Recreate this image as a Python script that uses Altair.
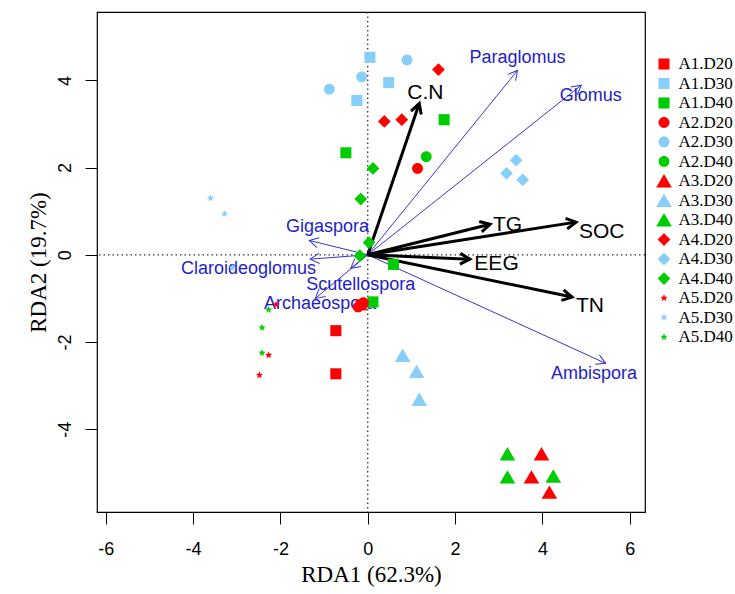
import math
import altair as alt
import pandas as pd

# ---------------- data ----------------
groups = ["A1.D20", "A1.D30", "A1.D40", "A2.D20", "A2.D30", "A2.D40",
          "A3.D20", "A3.D30", "A3.D40", "A4.D20", "A4.D30", "A4.D40",
          "A5.D20", "A5.D30", "A5.D40"]

pt_group = (["A1.D20"] * 3 + ["A1.D30"] * 3 + ["A1.D40"] * 4 +
            ["A2.D20"] * 3 + ["A2.D30"] * 3 + ["A2.D40"] * 1 +
            ["A3.D20"] * 3 + ["A3.D30"] * 3 + ["A3.D40"] * 3 +
            ["A4.D20"] * 3 + ["A4.D30"] * 3 + ["A4.D40"] * 4 +
            ["A5.D20"] * 3 + ["A5.D30"] * 3 + ["A5.D40"] * 3)
pt_x = [-0.73, -0.73, -0.15,
        0.05, 0.48, -0.25,
        -0.50, 1.75, 0.59, 0.12,
        1.14, -0.10, -0.22,
        -0.88, -0.14, 0.90,
        1.34,
        3.98, 3.75, 4.16,
        0.80, 1.12, 1.18,
        3.20, 3.20, 4.25,
        1.62, 0.38, 0.78,
        3.40, 3.18, 3.55,
        0.12, -0.16, 0.03, -0.18,
        -2.10, -2.27, -2.48,
        -3.60, -3.28, -3.10,
        -2.27, -2.42, -2.42]
pt_y = [-1.74, -2.73, -1.15,
        4.53, 3.95, 3.54,
        2.34, 3.10, -0.22, -1.08,
        1.98, -1.10, -1.20,
        3.80, 4.08, 4.47,
        2.25,
        -4.57, -5.10, -5.45,
        -2.31, -2.68, -3.32,
        -4.57, -5.10, -5.08,
        4.25, 3.06, 3.10,
        2.17, 1.87, 1.72,
        1.98, 1.28, 0.28, -0.02,
        -1.14, -2.30, -2.76,
        1.30, 0.94, -0.30,
        -1.26, -1.67, -2.25]

env_names = ["C.N", "TG", "SOC", "EEG", "TN"]
env_x = [1.18, 2.80, 4.77, 2.34, 4.68]
env_y = [3.47, 0.70, 0.75, -0.10, -0.97]
env_label_x = [1.32, 3.20, 5.36, 2.95, 5.09]
env_label_y = [3.72, 0.68, 0.52, -0.20, -1.18]

sp_names = ["Paraglomus", "Glomus", "Gigaspora", "Claroideoglomus",
            "Scutellospora", "Archaeospora", "Ambispora"]
sp_x = [3.43, 4.89, -1.34, -1.32, -0.39, -1.20, 5.45]
sp_y = [4.23, 3.89, 0.33, -0.10, -0.31, -1.00, -2.49]
sp_label_x = [3.43, 5.11, -0.92, -2.73, -0.16, -1.09, 5.18]
sp_label_y = [4.51, 3.65, 0.63, -0.32, -0.70, -1.12, -2.74]

x_ticks = [-6, -4, -2, 0, 2, 4, 6]
y_ticks = [-4, -2, 0, 2, 4]

# ---------------- styles ----------------
W, H = 548, 500
XDOM = [-6.2, 6.35]
YDOM = [-5.9, 5.57]
RED, LBLUE, GREEN = "#FF0000", "#87CEFA", "#00CD00"
BLUE_TXT, BLUE_LINE = "#1E1EC8", "#3535D2"

def star_path(ro, ri):
    pts = []
    for k in range(10):
        r = ro if k % 2 == 0 else ri
        a = -math.pi / 2 + k * math.pi / 5
        pts.append(f"{r * math.cos(a):.3f},{r * math.sin(a):.3f}")
    return "M" + "L".join(pts) + "Z"

SQUARE = "M-0.65,-0.65L0.65,-0.65L0.65,0.65L-0.65,0.65Z"
CIRCLE = "M0.64,0A0.64,0.64 0 1,1 -0.64,0A0.64,0.64 0 1,1 0.64,0Z"
TRI = "M0,-0.82L0.92,0.76L-0.92,0.76Z"
DIAM = "M0,-0.75L0.75,0L0,0.75L-0.75,0Z"
STAR = star_path(0.46, 0.19)
shape_by_a = [SQUARE, CIRCLE, TRI, DIAM, STAR]
color_by_d = [RED, LBLUE, GREEN]
shape_range = [shape_by_a[i // 3] for i in range(15)]
color_range = [color_by_d[i % 3] for i in range(15)]
CHEVRON = "M-1,-0.55L0,0L-1,0.55"

kx = W / (XDOM[1] - XDOM[0])
ky = H / (YDOM[1] - YDOM[0])

def head_angle(x, y):
    return math.degrees(math.atan2(-y * ky, x * kx)) % 360

pts = pd.DataFrame({"group": pt_group, "x": pt_x, "y": pt_y})
pts["order"] = [groups.index(g) for g in pt_group]
env = pd.DataFrame({"name": env_names, "ox": [0.0] * 5, "oy": [0.0] * 5,
                    "tx": env_x, "ty": env_y, "lx": env_label_x, "ly": env_label_y})
env["ang"] = [head_angle(a, b) for a, b in zip(env_x, env_y)]
sp = pd.DataFrame({"name": sp_names, "ox": [0.0] * 7, "oy": [0.0] * 7,
                   "tx": sp_x, "ty": sp_y, "lx": sp_label_x, "ly": sp_label_y})
sp["ang"] = [head_angle(a, b) for a, b in zip(sp_x, sp_y)]
zero = pd.DataFrame({"z": [0.0]})

xs = alt.Scale(domain=XDOM, nice=False, zero=False)
ys = alt.Scale(domain=YDOM, nice=False, zero=False)
xaxis = alt.Axis(values=x_ticks, title="RDA1 (62.3%)", grid=False, domain=False,
                 tickSize=12, tickColor="black", tickWidth=1,
                 labelExpr="'' + datum.value",
                 labelFont="Liberation Sans", labelFontSize=18, labelColor="black",
                 labelPadding=16, labelFlush=False, labelOverlap=False,
                 titleFont="Liberation Serif", titleFontSize=23, titleFontWeight="normal",
                 titleColor="black", titlePadding=5)
yaxis = alt.Axis(values=y_ticks, title="RDA2 (19.7%)", grid=False, domain=False,
                 tickSize=12, tickColor="black", tickWidth=1,
                 labelExpr="'' + datum.value",
                 labelFont="Liberation Sans", labelFontSize=18, labelColor="black",
                 labelAngle=270, labelAlign="center", labelBaseline="bottom",
                 labelPadding=11, labelFlush=False, labelOverlap=False,
                 titleFont="Liberation Serif", titleFontSize=23, titleFontWeight="normal",
                 titleColor="black", titlePadding=6)

def X(f):
    return alt.X(f, type="quantitative", scale=xs, axis=xaxis)

def Y(f):
    return alt.Y(f, type="quantitative", scale=ys, axis=yaxis)

vline = alt.Chart(zero).mark_rule(color="#333333", strokeWidth=1.3, strokeDash=[1.5, 3]).encode(x=X("z"))
hline = alt.Chart(zero).mark_rule(color="#333333", strokeWidth=1.3, strokeDash=[1.5, 3]).encode(y=Y("z"))

sp_lines = alt.Chart(sp).mark_rule(color=BLUE_LINE, strokeWidth=1).encode(
    x=X("ox"), y=Y("oy"), x2="tx", y2="ty")
sp_heads = alt.Chart(sp).mark_point(shape=CHEVRON, filled=False, size=340, color=BLUE_LINE,
                                    strokeWidth=1, opacity=1).encode(
    x=X("tx"), y=Y("ty"), angle=alt.Angle("ang:Q", scale=None))
env_lines = alt.Chart(env).mark_rule(color="black", strokeWidth=3).encode(
    x=X("ox"), y=Y("oy"), x2="tx", y2="ty")
env_heads = alt.Chart(env).mark_point(shape=CHEVRON, filled=False, size=380, color="black",
                                      strokeWidth=3, opacity=1).encode(
    x=X("tx"), y=Y("ty"), angle=alt.Angle("ang:Q", scale=None))

sp_text = alt.Chart(sp).mark_text(font="Liberation Sans", fontSize=18, color=BLUE_TXT,
                                  align="center", baseline="middle").encode(
    x=X("lx"), y=Y("ly"), text="name:N")
env_text = alt.Chart(env).mark_text(font="Liberation Sans", fontSize=21, color="black",
                                    align="center", baseline="middle").encode(
    x=X("lx"), y=Y("ly"), text="name:N")

leg = alt.Legend(title=None, orient="none", legendX=558.5, legendY=43.5,
                 labelFont="Liberation Serif", labelFontSize=17, labelColor="black",
                 symbolSize=289, labelOffset=6, rowPadding=1.5, padding=0,
                 symbolStrokeWidth=0, symbolOpacity=1)
points = alt.Chart(pts).mark_point(filled=True, opacity=1, size=289, strokeWidth=0).encode(
    x=X("x"), y=Y("y"),
    color=alt.Color("group:N", scale=alt.Scale(domain=groups, range=color_range), legend=leg),
    shape=alt.Shape("group:N", scale=alt.Scale(domain=groups, range=shape_range), legend=leg),
    order=alt.Order("order:Q"))

chart = alt.layer(vline, hline, sp_lines, sp_heads, env_lines, env_heads, sp_text, env_text, points).properties(
    width=W, height=H,
    autosize=alt.AutoSizeParams(type="none"),
    padding={"left": 97, "top": 12, "right": 90, "bottom": 82},
    background="white",
).configure_view(stroke="black", strokeWidth=1.2)

chart.save("out.html", embed_options={"renderer": "svg", "actions": False})
